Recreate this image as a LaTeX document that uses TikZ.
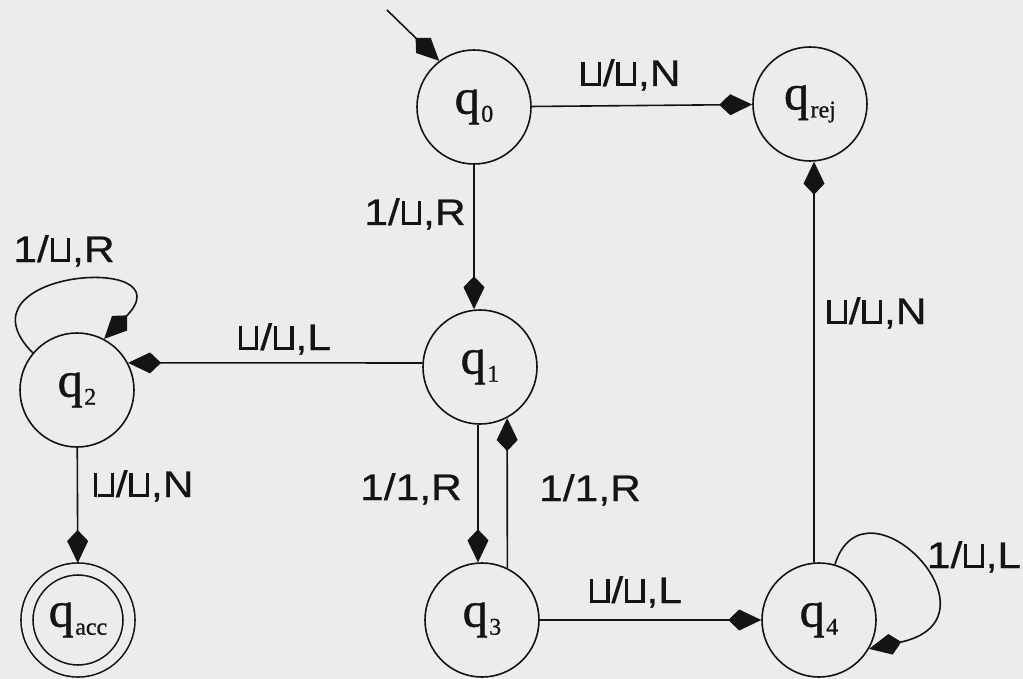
\documentclass[tikz,border=0pt]{standalone}
\usepackage{fontspec}
\setmainfont{Liberation Serif}
\newfontfamily\stfont[FakeBold=0.8]{Liberation Serif}
\newfontfamily\labfont[FakeStretch=1.15,FakeBold=0.6]{Liberation Sans}
\usetikzlibrary{arrows.meta}
\definecolor{paper}{RGB}{236,236,236}
\definecolor{ink}{RGB}{20,20,20}

% blank tape symbol
\newcommand\bl{\kern0.05em\rule{0.085em}{0.64em}\rule{0.36em}{0.085em}\rule{0.085em}{0.64em}\kern0.05em}
% state name with subscript
\newcommand\qs[1]{q\kern0.03em\raisebox{-0.16em}{\fontsize{24}{24}\selectfont #1}}

\begin{document}
\begin{tikzpicture}[x=1pt,y=-1pt,
  every node/.style={inner sep=0pt},
  state/.style={circle, draw=ink, line width=1.6pt, minimum size=114pt,
    text=ink, font=\stfont\fontsize{50}{50}\selectfont},
  accept/.style={double=paper, double distance=10.4pt, minimum size=102pt, outer sep=6pt},
  lab/.style={font=\labfont\fontsize{37}{37}\selectfont, text=ink, anchor=base},
  arr/.style={draw=ink, line width=1.6pt, -{Kite[length=33pt,width=21pt,inset=11pt]}}]

\fill[paper] (0,0) rectangle (1023,679);
\useasboundingbox (0,0) rectangle (1023,679);

% states
\node[state] (q0) at (474,107) {\qs{0}};
\node[state] (qrej) at (810,104) {\qs{rej}};
\node[state] (q1) at (480,367) {\qs{1}};
\node[state] (q2) at (77,390) {\qs{2}};
\node[state, accept] (qacc) at (78,620) {\qs{acc}};
\node[state] (q3) at (482,620) {\qs{3}};
\node[state] (q4) at (819,620) {\qs{4}};

% start arrow
\coordinate (s0) at (387,10);
\draw[arr] (s0) -- (q0.127);

% transitions
\draw[arr] (q0) -- (qrej);
\draw[arr] (q0.south) -- (q0.south |- q1.north);
\draw[arr] (q1.176) -- (q2.28);
\draw[arr] (q2) -- (qacc);
\draw[arr] (q1.268) -- (q3.94);
\draw[arr] (q3.64) -- (q1.298);
\draw[arr] (q3) -- (q4);
\draw[arr] (q4.95) -- (qrej.-86);
\draw[arr] (q2.140) .. controls +(-82,-83) and +(85,-87) .. (q2.62);
\draw[arr] (q4.74) .. controls +(30,-95) and +(140,-30) .. (q4.-30);

% transition labels
\node[lab] (l0r) at (630,86) {\bl/\bl,N};
\node[lab] (l01) at (415,225) {1/\bl,R};
\node[lab] (l22) at (64,262) {1/\bl,R};
\node[lab] (l12) at (284,350) {\bl/\bl,L};
\node[lab] (l2a) at (143,497) {\bl/\bl,N};
\node[lab] (l13) at (411,500) {1/1,R};
\node[lab] (l31) at (590,501) {1/1,R};
\node[lab] (l34) at (635,603) {\bl/\bl,L};
\node[lab] (l4r) at (876,324) {\bl/\bl,N};
\node[lab] (l44) at (974,568) {1/\bl,L};
\end{tikzpicture}
\end{document}
